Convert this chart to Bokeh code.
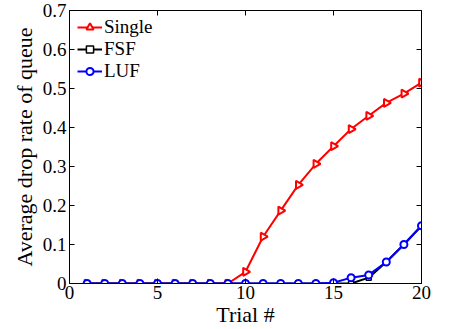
import math
from bokeh.plotting import figure
from bokeh.models import LinearAxis, FixedTicker, Legend, Range1d
from bokeh.embed import file_html
from bokeh.resources import INLINE

trials = list(range(1, 21))
single = [0, 0, 0, 0, 0, 0, 0, 0, 0, 0.03, 0.12, 0.187, 0.253, 0.307, 0.352,
          0.396, 0.43, 0.463, 0.487, 0.515]
fsf = [0, 0, 0, 0, 0, 0, 0, 0, 0, 0, 0, 0, 0, 0, 0,
       0.0, 0.015, 0.055, 0.1, 0.148]
luf = [0, 0, 0, 0, 0, 0, 0, 0, 0, 0, 0, 0, 0, 0, 0.002,
       0.015, 0.022, 0.055, 0.1, 0.148]

xtick_vals = [0, 5, 10, 15, 20]
xtick_labels = ["0", "5", "10", "15", "20"]
ytick_vals = [0, 0.1, 0.2, 0.3, 0.4, 0.5, 0.6, 0.7]
ytick_labels = ["0", "0.1", "0.2", "0.3", "0.4", "0.5", "0.6", "0.7"]

FONT = "Liberation Serif"

p = figure(width=453, height=329, output_backend="svg", toolbar_location=None,
           x_range=Range1d(0, 20), y_range=Range1d(0, 0.7),
           min_border_left=69, min_border_right=32, min_border_top=10,
           min_border_bottom=46)
p.grid.visible = False
p.outline_line_color = "black"
p.outline_line_width = 1
p.background_fill_color = "white"
p.border_fill_color = "white"

def style_axis(ax, ticks, labels, show_labels=True):
    ax.ticker = FixedTicker(ticks=ticks)
    ax.major_label_overrides = {t: l for t, l in zip(ticks, labels)}
    ax.minor_tick_line_color = None
    ax.major_tick_in = 5
    ax.major_tick_out = 0
    ax.axis_line_color = "black"
    ax.major_tick_line_color = "black"
    ax.major_label_text_font = FONT
    ax.major_label_text_color = "black"
    ax.axis_label_text_font = FONT
    ax.axis_label_text_font_style = "normal"
    ax.axis_label_text_color = "black"
    if show_labels:
        ax.major_label_text_font_size = "19px"
        ax.axis_label_text_font_size = "22px"
    else:
        ax.major_label_text_font_size = "0px"
        ax.major_label_standoff = 0

style_axis(p.xaxis[0], xtick_vals, xtick_labels)
style_axis(p.yaxis[0], ytick_vals, ytick_labels)
p.xaxis[0].axis_label = "Trial #"
p.yaxis[0].axis_label = "Average drop rate of queue"
p.xaxis[0].major_label_standoff = 2
p.xaxis[0].axis_label_standoff = 0
p.yaxis[0].major_label_standoff = 3
p.yaxis[0].axis_label_standoff = 3

top = LinearAxis()
style_axis(top, xtick_vals, xtick_labels, show_labels=False)
p.add_layout(top, "above")
right = LinearAxis()
style_axis(right, ytick_vals, ytick_labels, show_labels=False)
p.add_layout(right, "right")

r1 = p.line(trials, single, line_color="#ff0000", line_width=2)
s1 = p.scatter(trials, single, marker="triangle", angle=-math.pi / 2, size=8,
               line_color="#ff0000", fill_color="white", line_width=2)
r2 = p.line(trials, fsf, line_color="black", line_width=2)
s2 = p.scatter(trials, fsf, marker="square", size=5,
               line_color="black", fill_color="white", line_width=1.5)
r3 = p.line(trials, luf, line_color="#0000ff", line_width=2)
s3 = p.scatter(trials, luf, marker="circle", size=7,
               line_color="#0000ff", fill_color="white", line_width=2)

legend = Legend(items=[("Single", [r1, s1]), ("FSF", [r2, s2]), ("LUF", [r3, s3])],
                location=(8, 201))
legend.border_line_color = None
legend.background_fill_alpha = 0
legend.label_text_font = FONT
legend.label_text_font_size = "19px"
legend.label_text_color = "black"
legend.glyph_width = 25
legend.glyph_height = 18
legend.label_standoff = 2
legend.spacing = -1
legend.padding = 0
legend.margin = 0
legend.label_height = 18
p.add_layout(legend)

open("out.html", "w").write(file_html(p, INLINE))
